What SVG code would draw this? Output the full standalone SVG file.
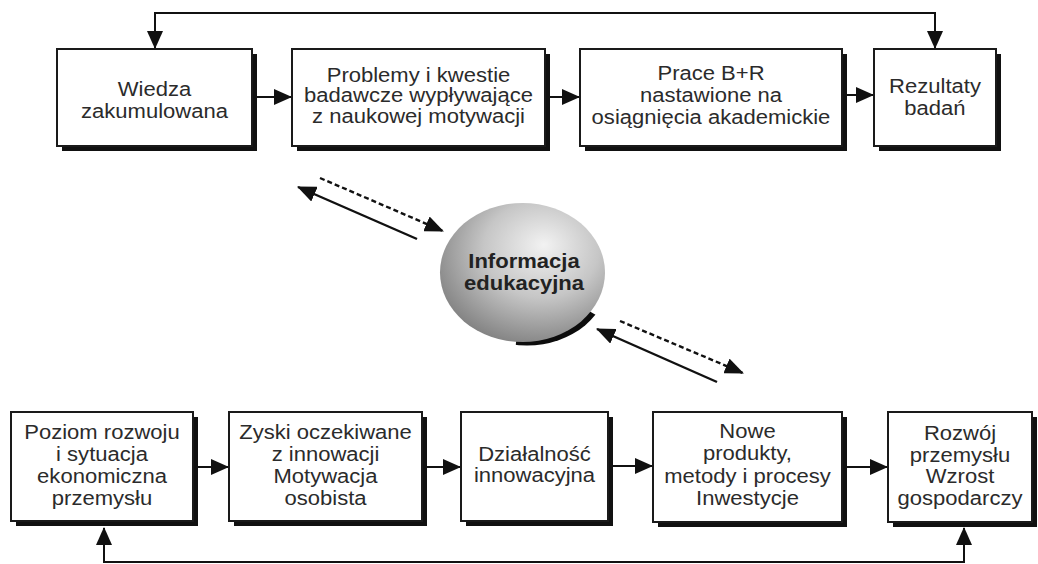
<svg xmlns="http://www.w3.org/2000/svg" width="1038" height="564" viewBox="0 0 1038 564">
  <defs>
    <style>
      .box { fill: #ffffff; stroke: #1a1a1a; stroke-width: 2; }
      .shadow { fill: #111111; }
      .t { font-family: "Liberation Sans", Arial, sans-serif; font-size: 19.5px; fill: #2b2b2b; text-anchor: middle; }
      .tb { font-family: "Liberation Sans", Arial, sans-serif; font-size: 19.5px; font-weight: bold; fill: #222222; text-anchor: middle; }
      .conn { fill: none; stroke: #111111; stroke-width: 2; }
      .diag { fill: none; stroke: #111111; stroke-width: 2.4; }
      .dash { stroke-dasharray: 5 3; }
    </style>
    <marker id="arr" viewBox="0 0 18 16" refX="17" refY="8" markerWidth="18" markerHeight="16" markerUnits="userSpaceOnUse" orient="auto-start-reverse">
      <path d="M0,0 L18,8 L0,16 z" fill="#111111"/>
    </marker>
    <marker id="arrD" viewBox="0 0 19 16" refX="18" refY="8" markerWidth="19" markerHeight="16" markerUnits="userSpaceOnUse" orient="auto">
      <path d="M0,0 L19,8 L0,16 z" fill="#111111"/>
    </marker>
    <radialGradient id="sphere" cx="0.6" cy="0.36" r="0.7" fx="0.63" fy="0.3">
      <stop offset="0" stop-color="#f2f2f2"/>
      <stop offset="0.5" stop-color="#c6c6c6"/>
      <stop offset="1" stop-color="#7e7e7e"/>
    </radialGradient>
    <clipPath id="shadowWedge">
      <polygon points="522,272 694,372 505,472"/>
    </clipPath>
  </defs>

  <!-- feedback loops and links between blocks -->
  <g id="connectors">
    <path class="conn" d="M155,48 L155,13 L935,13 L935,48" marker-start="url(#arr)" marker-end="url(#arr)"/>
    <line class="conn" x1="257" y1="97" x2="291" y2="97" marker-end="url(#arr)"/>
    <line class="conn" x1="550" y1="97" x2="579" y2="97" marker-end="url(#arr)"/>
    <line class="conn" x1="847" y1="95" x2="873" y2="95" marker-end="url(#arr)"/>

    <line class="conn" x1="198" y1="467" x2="228" y2="467" marker-end="url(#arr)"/>
    <line class="conn" x1="427" y1="467" x2="460" y2="467" marker-end="url(#arr)"/>
    <line class="conn" x1="612" y1="466" x2="652" y2="466" marker-end="url(#arr)"/>
    <line class="conn" x1="846" y1="467" x2="887" y2="467" marker-end="url(#arr)"/>
    <path class="conn" d="M104,528 L104,562 L964,562 L964,528" marker-start="url(#arr)" marker-end="url(#arr)"/>

    <line class="diag" x1="417" y1="239" x2="298" y2="187" marker-end="url(#arrD)"/>
    <line class="diag dash" x1="320" y1="178" x2="443" y2="231" marker-end="url(#arrD)"/>
    <line class="diag" x1="717" y1="382" x2="597" y2="329" marker-end="url(#arrD)"/>
    <line class="diag dash" x1="620" y1="321" x2="743" y2="373" marker-end="url(#arrD)"/>
  </g>

  <!-- upper row: academic research -->
  <g id="wiedza">
    <rect class="shadow" x="62" y="54" width="195" height="97"/>
    <rect class="box" x="57" y="49" width="195" height="97"/>
    <text class="t" transform="translate(154.5 0) scale(1.13 1)"><tspan x="0" y="96">Wiedza</tspan><tspan x="0" y="118">zakumulowana</tspan></text>
  </g>
  <g id="problemy">
    <rect class="shadow" x="297" y="54" width="253" height="97"/>
    <rect class="box" x="292" y="49" width="253" height="97"/>
    <text class="t" transform="translate(418.5 0) scale(1.13 1)"><tspan x="0" y="82">Problemy i kwestie</tspan><tspan x="0" y="102.5">badawcze wypływające</tspan><tspan x="0" y="123">z naukowej motywacji</tspan></text>
  </g>
  <g id="prace">
    <rect class="shadow" x="585" y="54" width="262" height="97"/>
    <rect class="box" x="580" y="49" width="262" height="97"/>
    <text class="t" transform="translate(711 0) scale(1.13 1)"><tspan x="0" y="80.5">Prace B+R</tspan><tspan x="0" y="102">nastawione na</tspan><tspan x="0" y="124">osiągnięcia akademickie</tspan></text>
  </g>
  <g id="rezultaty">
    <rect class="shadow" x="879" y="54" width="122" height="97"/>
    <rect class="box" x="874" y="49" width="122" height="97"/>
    <text class="t" transform="translate(935 0) scale(1.13 1)"><tspan x="0" y="93.5">Rezultaty</tspan><tspan x="0" y="115">badań</tspan></text>
  </g>

  <!-- central sphere -->
  <g id="informacja">
    <ellipse cx="527" cy="276" rx="82.5" ry="69.5" fill="#0d0d0d" clip-path="url(#shadowWedge)"/>
    <ellipse cx="522.5" cy="272.5" rx="82.5" ry="69.5" fill="url(#sphere)"/>
    <text class="tb" transform="translate(524 0) scale(1.13 1)"><tspan x="0" y="268">Informacja</tspan><tspan x="0" y="290">edukacyjna</tspan></text>
  </g>

  <!-- lower row: industry and innovation -->
  <g id="poziom">
    <rect class="shadow" x="16" y="417" width="182" height="109"/>
    <rect class="box" x="11" y="412" width="182" height="109"/>
    <text class="t" transform="translate(102 0) scale(1.13 1)"><tspan x="0" y="439">Poziom rozwoju</tspan><tspan x="0" y="461">i sytuacja</tspan><tspan x="0" y="483">ekonomiczna</tspan><tspan x="0" y="505">przemysłu</tspan></text>
  </g>
  <g id="zyski">
    <rect class="shadow" x="234" y="417" width="193" height="109"/>
    <rect class="box" x="229" y="412" width="193" height="109"/>
    <text class="t" transform="translate(325.5 0) scale(1.13 1)"><tspan x="0" y="439">Zyski oczekiwane</tspan><tspan x="0" y="461">z innowacji</tspan><tspan x="0" y="483">Motywacja</tspan><tspan x="0" y="505">osobista</tspan></text>
  </g>
  <g id="dzialalnosc">
    <rect class="shadow" x="466" y="417" width="147" height="109"/>
    <rect class="box" x="461" y="412" width="147" height="109"/>
    <text class="t" transform="translate(534.5 0) scale(1.13 1)"><tspan x="0" y="461">Działalność</tspan><tspan x="0" y="482">innowacyjna</tspan></text>
  </g>
  <g id="produkty">
    <rect class="shadow" x="658" y="417" width="189" height="110"/>
    <rect class="box" x="653" y="412" width="189" height="110"/>
    <text class="t" transform="translate(747.5 0) scale(1.13 1)"><tspan x="0" y="438">Nowe</tspan><tspan x="0" y="460">produkty,</tspan><tspan x="0" y="483">metody i procesy</tspan><tspan x="0" y="505">Inwestycje</tspan></text>
  </g>
  <g id="rozwoj">
    <rect class="shadow" x="893" y="417" width="144" height="110"/>
    <rect class="box" x="888" y="412" width="144" height="110"/>
    <text class="t" transform="translate(960 0) scale(1.13 1)"><tspan x="0" y="440">Rozwój</tspan><tspan x="0" y="462">przemysłu</tspan><tspan x="0" y="483">Wzrost</tspan><tspan x="0" y="505">gospodarczy</tspan></text>
  </g>
</svg>
